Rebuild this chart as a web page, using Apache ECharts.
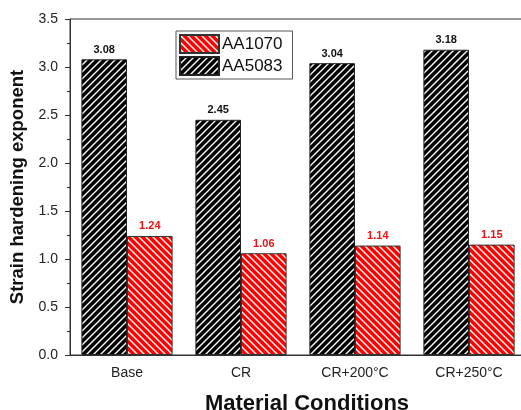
<!DOCTYPE html>
<html>
<head>
<meta charset="utf-8">
<script src="https://cdn.jsdelivr.net/npm/echarts@6/dist/echarts.min.js"></script>
<style>html,body{margin:0;padding:0;background:#fff;}#c{width:521px;height:410px;}</style>
</head>
<body>
<div id="c"></div>
<script>
var categories = ['Base', 'CR', 'CR+200°C', 'CR+250°C'];
var aa5083 = [3.08, 2.45, 3.04, 3.18];
var aa1070 = [1.24, 1.06, 1.14, 1.15];
var yTicks = { min: 0, max: 3.5, interval: 0.5 };

function makePattern(bg, dir) {
  var s = 7;
  var cv = document.createElement('canvas');
  cv.width = s; cv.height = s;
  var ctx = cv.getContext('2d');
  ctx.fillStyle = bg;
  ctx.fillRect(0, 0, s, s);
  ctx.strokeStyle = '#ffffff';
  ctx.lineWidth = 1.4;
  ctx.beginPath();
  if (dir === '/') {
    ctx.moveTo(0, s); ctx.lineTo(s, 0);
    ctx.moveTo(-1, 1); ctx.lineTo(1, -1);
    ctx.moveTo(s - 1, s + 1); ctx.lineTo(s + 1, s - 1);
  } else {
    ctx.moveTo(0, 0); ctx.lineTo(s, s);
    ctx.moveTo(-1, s - 1); ctx.lineTo(1, s + 1);
    ctx.moveTo(s - 1, -1); ctx.lineTo(s + 1, 1);
  }
  ctx.stroke();
  return { image: cv, repeat: 'repeat' };
}

var chart = echarts.init(document.getElementById('c'), null, { renderer: 'canvas' });
var font = 'Liberation Sans, Arial, sans-serif';
chart.setOption({
  animation: false,
  backgroundColor: '#fff',
  textStyle: { fontFamily: font },
  grid: { left: 70, top: 19, width: 456, height: 336, containLabel: false, outerBoundsMode: 'none', show: true, borderColor: '#333', borderWidth: 1, backgroundColor: 'transparent' },
  legend: {
    data: ['AA1070', 'AA5083'],
    orient: 'vertical',
    left: 176, top: 31,
    icon: 'rect',
    itemWidth: 39, itemHeight: 18, itemGap: 2,
    padding: [3, 10, 3, 3],
    borderColor: '#555', borderWidth: 1,
    textStyle: { fontSize: 17, color: '#111', fontFamily: font, padding: [0, 0, 0, -2] }
  },
  xAxis: [{
    type: 'category', data: categories,
    axisLine: { lineStyle: { color: '#333', width: 1 } },
    axisTick: { alignWithLabel: true, length: 6, lineStyle: { color: '#333' } },
    axisLabel: { fontSize: 14, color: '#222', margin: 11, fontFamily: font },
    name: 'Material Conditions', nameLocation: 'middle', nameGap: 38,
    nameTextStyle: { fontSize: 22, fontWeight: 'bold', color: '#111', fontFamily: font, padding: [0, 0, 0, 18] }
  }, {
    type: 'category', data: categories, position: 'bottom',
    axisLine: { show: false },
    axisTick: { length: 3, lineStyle: { color: '#333' } },
    axisLabel: { show: false }
  }],
  yAxis: {
    type: 'value', min: yTicks.min, max: yTicks.max, interval: yTicks.interval,
    splitLine: { show: false },
    axisLine: { show: true, lineStyle: { color: '#333', width: 1 } },
    axisTick: { show: true, length: 5, lineStyle: { color: '#333' } },
    minorTick: { show: true, splitNumber: 2, length: 3, lineStyle: { color: '#333' } },
    axisLabel: { fontSize: 14, color: '#222', margin: 12, fontFamily: font, formatter: function (v) { return v.toFixed(1); } },
    name: 'Strain hardening exponent', nameLocation: 'middle', nameGap: 42,
    nameTextStyle: { fontSize: 18.5, fontWeight: 'bold', color: '#111', fontFamily: font }
  },
  series: [{
    name: 'AA5083', type: 'bar', data: aa5083,
    barGap: '0%', barCategoryGap: '20%',
    itemStyle: { color: makePattern('#000000', '/'), borderColor: '#222', borderWidth: 1 },
    label: { show: true, position: 'top', distance: 4, fontSize: 11, fontWeight: 'bold', color: '#111', fontFamily: font, formatter: function (p) { return p.value.toFixed(2); } }
  }, {
    name: 'AA1070', type: 'bar', data: aa1070,
    barGap: '0%', barCategoryGap: '20%',
    itemStyle: { color: makePattern('#ff0000', '\\'), borderColor: '#333', borderWidth: 1 },
    label: { show: true, position: 'top', distance: 4, fontSize: 11, fontWeight: 'bold', color: '#ee1111', fontFamily: font, formatter: function (p) { return p.value.toFixed(2); } }
  }]
});
</script>
</body>
</html>
